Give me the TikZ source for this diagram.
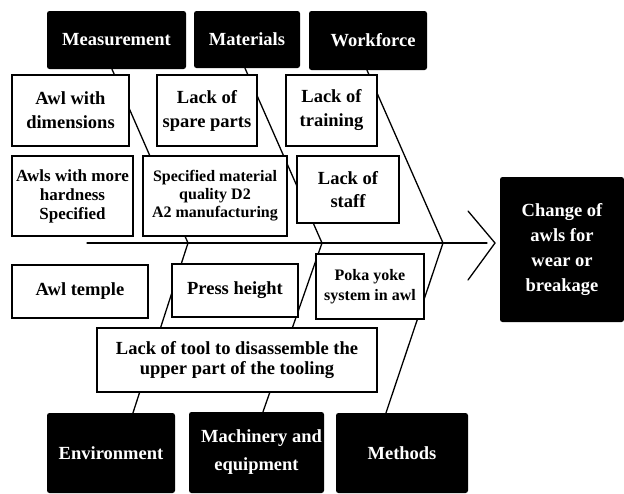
\documentclass[tikz,border=0pt]{standalone}
\usepackage{fontspec}
\setmainfont{Liberation Serif}
\usetikzlibrary{calc,backgrounds}
\begin{document}
\begin{tikzpicture}[x=1pt,y=-1pt,
  cause/.style={draw=black, line width=1.8pt, fill=white, inner sep=0pt, align=center,
    font=\bfseries\fontsize{18.5}{24}\selectfont},
  category/.style={fill=black, rounded corners=2.5pt, text=white, inner sep=0pt, align=center,
    font=\bfseries\fontsize{18.5}{24}\selectfont},
  bone/.style={line width=1.3pt, line cap=round},
  sz/.style 2 args={minimum width=#1pt, minimum height=#2pt}
]
\useasboundingbox (0,0) rectangle (624,493);

% main categories
\node[category, sz={139}{58}] (meas) at (116.5,40) {Measurement};
\node[category, sz={106}{57}] (mat)  at (247,39.5) {Materials};
\node[category, sz={118}{59}] (work) at (368,40.5) {\hspace*{10pt}Workforce};
\node[category, sz={128}{80}] (env)  at (111,453) {Environment};
\node[category, sz={135}{81}, font=\bfseries\fontsize{18.5}{28}\selectfont] (mach) at (256.5,452.5) {\hspace*{10pt}Machinery and\\equipment};
\node[category, sz={132}{80}] (meth) at (402,453) {Methods};

% effect
\node[category, sz={124}{145}, font=\bfseries\fontsize{18.5}{25}\selectfont] (effect) at (562,249.5) {Change of\\awls for\\wear or\\breakage};

% causes above the spine
\node[cause, sz={117}{71}] (awldim) at (70.5,110.5) {Awl with\\dimensions};
\node[cause, sz={100}{71}] (spare)  at (207,110.5) {Lack of\\spare parts};
\node[cause, sz={91}{71}]  (train)  at (331.5,110.5) {Lack of\\training};
\node[cause, sz={121}{80}, font=\bfseries\fontsize{17}{19}\selectfont] (hard) at (72.5,196) {Awls with more\\hardness\\Specified};
\node[cause, sz={144}{80}, font=\bfseries\fontsize{16}{18}\selectfont] (spec) at (215,196) {Specified material\\quality D2\\A2 manufacturing};
\node[cause, sz={102}{67}, font=\bfseries\fontsize{18.5}{23}\selectfont] (staff) at (348,189.5) {Lack of\\staff};

% causes below the spine
\node[cause, sz={136}{53}] (temple) at (80,291.5) {Awl temple};
\node[cause, sz={126}{53}] (press)  at (235,290.5) {Press height};
\node[cause, sz={108}{65}, font=\bfseries\fontsize{16}{20}\selectfont] (poka) at (370,286.5) {Poka yoke\\system in awl};
\node[cause, sz={280}{64}, font=\bfseries\fontsize{18.5}{20}\selectfont] (tool) at (237,360) {Lack of tool to disassemble the\\upper part of the tooling};

% spine and bones
\coordinate (tail) at (87,243);
\coordinate (head) at (487,243);
\coordinate (j1) at (188,243);
\coordinate (j2) at (322,243);
\coordinate (j3) at (443,243);
\coordinate (chtop) at (468,211);
\coordinate (chtip) at (495,243);
\coordinate (chbot) at (468,280);

\begin{scope}[on background layer]
  \draw[bone] (tail) -- (head);
  \draw[bone] (chtop) -- (chtip) -- (chbot);
  \draw[bone] (j1) -- ($(meas.south)+(-4.5,0)$);
  \draw[bone] (j2) -- ($(mat.south)+(-2,0)$);
  \draw[bone] (j3) -- ($(work.south)+(-1,0)$);
  \draw[bone] (j1) -- ($(env.north)+(22,0)$);
  \draw[bone] (j2) -- ($(mach.north)+(6.5,0)$);
  \draw[bone] (j3) -- ($(meth.north)+(-16,0)$);
\end{scope}
\end{tikzpicture}
\end{document}
